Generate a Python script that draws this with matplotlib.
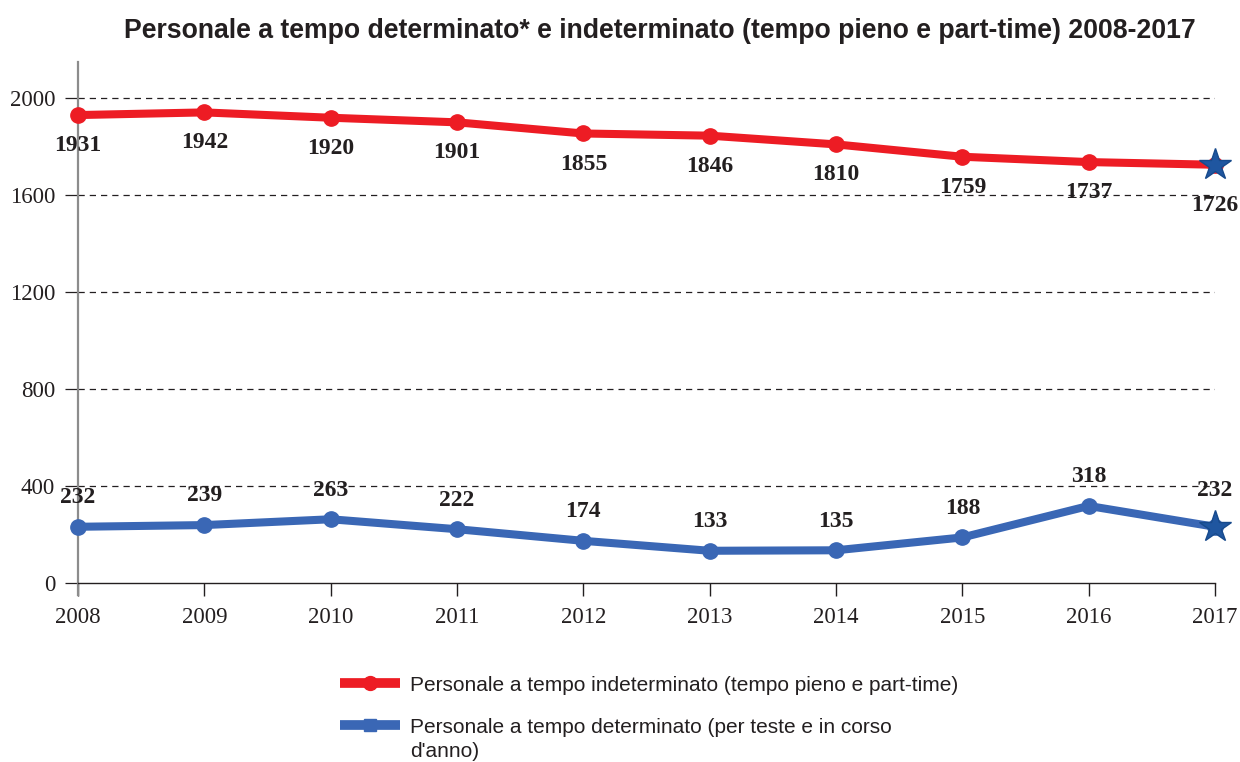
"""Personale a tempo determinato e indeterminato 2008-2017."""

import matplotlib.pyplot as plt
from matplotlib.lines import Line2D

years = [2008, 2009, 2010, 2011, 2012, 2013, 2014, 2015, 2016, 2017]
indeterminato = [1931, 1942, 1920, 1901, 1855, 1846, 1810, 1759, 1737, 1726]
determinato = [232, 239, 263, 222, 174, 133, 135, 188, 318, 232]
y_ticks = [0, 400, 800, 1200, 1600, 2000]
legend_labels = [
    "Personale a tempo indeterminato (tempo pieno e part-time)",
    "Personale a tempo determinato (per teste e in corso\nd'anno)",
]

red = "#ED1C24"
blue = "#3A67B5"
star_blue = "#1F56A0"
ink = "#231F20"

W, H = 1240, 762
fig = plt.figure(figsize=(W / 100, H / 100), dpi=100)
ax = fig.add_axes([78 / W, 1 - 583 / H, (1215 - 78) / W, (583 - 62) / H])

ax.plot(years, indeterminato, color=red, lw=5.8, marker="o", ms=11,
        solid_capstyle="butt", clip_on=False, zorder=3)
ax.plot(years, determinato, color=blue, lw=5.8, marker="o", ms=11,
        solid_capstyle="butt", clip_on=False, zorder=3)

# last point drawn as a star on both series
for series in (indeterminato, determinato):
    ax.plot([years[-1]], [series[-1]], marker="*", ms=24, color=star_blue,
            mec="#174A8C", clip_on=False, zorder=4)

label_font = dict(family="Liberation Serif", fontsize=17, fontweight="bold", color=ink)
for i, (x, v) in enumerate(zip(years, indeterminato)):
    dy = -29 if i == len(years) - 1 else -22
    ax.annotate(str(v), (x, v), xytext=(0, dy), textcoords="offset points",
                ha="center", va="center", **label_font)
for i, (x, v) in enumerate(zip(years, determinato)):
    dy = 26 if i == len(years) - 1 else 21
    ax.annotate(str(v), (x, v), xytext=(0, dy), textcoords="offset points",
                ha="center", va="center", **label_font)

ax.set_xlim(2008, 2017)
ax.set_ylim(0, 2150)
ax.set_xticks(years)
ax.set_yticks(y_ticks)
for y in y_ticks[1:]:
    ax.axhline(y, color=ink, lw=0.9, ls=(0, (5, 4)), zorder=1)

for side in ["top", "right"]:
    ax.spines[side].set_visible(False)
ax.spines["left"].set_color("#8C8C8C")
ax.spines["left"].set_linewidth(1.6)
ax.spines["left"].set_bounds(-12 * 2150 / 521, 2150)
ax.spines["bottom"].set_color(ink)
ax.spines["bottom"].set_linewidth(1.0)

ax.tick_params(axis="x", direction="out", length=9, width=1, color=ink,
               pad=8, labelsize=16.5, labelcolor=ink)
ax.tick_params(axis="y", direction="out", length=9.4, width=0.9, color=ink,
               pad=7, labelsize=16.5, labelcolor=ink)
for lab in ax.get_xticklabels() + ax.get_yticklabels():
    lab.set_family("Liberation Serif")

fig.text(0.532, 1 - 31 / H,
         "Personale a tempo determinato* e indeterminato (tempo pieno e part-time) 2008-2017",
         ha="center", va="center", family="Liberation Sans", fontweight="bold",
         fontsize=19.2, color=ink)

# legend drawn by hand so the wrapped second label lines up like the original
legend_rows = [(683, red, "o", 10), (725, blue, "s", 9)]
for (yp, color, marker, ms), text in zip(legend_rows, legend_labels):
    yf = 1 - yp / H
    fig.add_artist(Line2D([340 / W, 400 / W], [yf, yf], color=color, lw=7,
                          solid_capstyle="butt", transform=fig.transFigure))
    fig.add_artist(Line2D([370 / W], [yf], color=color, marker=marker, ms=ms,
                          transform=fig.transFigure))
    fig.text(410 / W, 1 - (yp - 7) / H, text, ha="left", va="top",
             family="Liberation Sans", fontsize=15, color=ink, linespacing=1.32)

fig.savefig("out.png", dpi=100)
